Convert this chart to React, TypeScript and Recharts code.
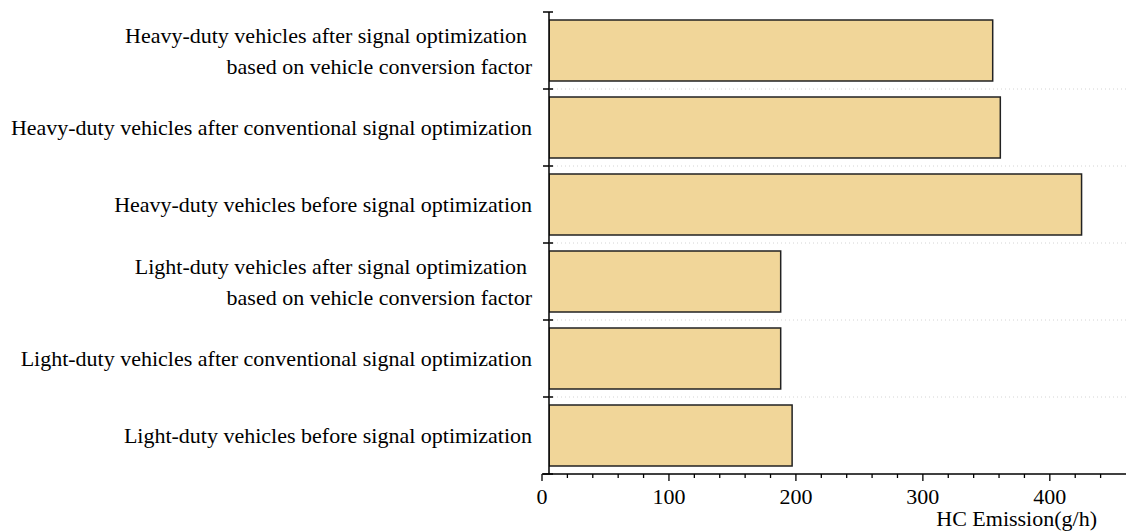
import { BarChart, Bar, XAxis, YAxis, ReferenceLine } from 'recharts'

// top to bottom
const categories = [
  'Heavy-duty vehicles after signal optimization\nbased on vehicle conversion factor',
  'Heavy-duty vehicles after conventional signal optimization',
  'Heavy-duty vehicles before signal optimization',
  'Light-duty vehicles after signal optimization\nbased on vehicle conversion factor',
  'Light-duty vehicles after conventional signal optimization',
  'Light-duty vehicles before signal optimization',
]
const hcEmission = [355, 361, 425, 188, 188, 197]
const xTicks = [0, 20, 40, 60, 80, 100, 120, 140, 160, 180, 200, 220, 240, 260, 280, 300, 320, 340, 360, 380, 400, 420, 440]

const data = categories.map((name, i) => ({ name, value: hcEmission[i] }))

const FONT = '"Liberation Serif", "Times New Roman", serif'

// category label + band-edge tick mark + dotted grid line
function CategoryTick({ x, y, payload, index }: any) {
  const lines = String(payload.value).split('\n')
  const half = payload.offset || 0
  const top = y - half
  return (
    <g>
      {index > 0 && (
        <line x1={x + 7} x2={x + 700} y1={top} y2={top} stroke="#d4d4d4" strokeWidth={1} strokeDasharray="1 3" />
      )}
      <line x1={x + 1} x2={x + 11} y1={top} y2={top} stroke="#000" strokeWidth={1.5} />
      {index === categories.length - 1 && (
        <line x1={x + 1} x2={x + 11} y1={y + half} y2={y + half} stroke="#000" strokeWidth={1.5} />
      )}
      {lines.map((line, i) => (
        <text
          key={i}
          x={x - (lines.length > 1 && i === 0 ? 15 : 10)}
          y={y + (lines.length === 1 ? 0 : -15 + i * 31)}
          dy="0.35em"
          textAnchor="end"
          fontSize={22}
          fontFamily={FONT}
          fill="#000"
        >
          {line}
        </text>
      ))}
    </g>
  )
}

function XTick({ x, y, payload }: any) {
  const major = payload.value % 100 === 0
  return (
    <g>
      <line x1={x} x2={x} y1={y} y2={y + (major ? 7 : 4)} stroke="#000" strokeWidth={1.3} />
      {major && (
        <text x={x} y={y + 30} textAnchor="middle" fontSize={22} fontFamily={FONT} fill="#000">
          {payload.value}
        </text>
      )}
    </g>
  )
}

export default function App() {
  return (
    <div style={{ position: 'absolute', left: 0, top: 0, background: '#fff' }}>
      <BarChart
        width={1126}
        height={532}
        data={data}
        layout="vertical"
        margin={{ top: 12, right: 0, bottom: 0, left: 0 }}
      >
        <YAxis
          yAxisId="cat"
          type="category"
          dataKey="name"
          width={542}
          axisLine={false}
          tickLine={false}
          tickSize={0}
          tickMargin={0}
          tick={<CategoryTick />}
          interval={0}
        />
        <XAxis
          xAxisId="b"
          type="number"
          domain={[5.5, 460]}
          allowDataOverflow
          padding={{ left: 7, right: 0 }}
          height={0}
          hide
        />
        <XAxis
          xAxisId="v"
          type="number"
          domain={[0, 460]}
          ticks={xTicks}
          allowDataOverflow
          height={58}
          axisLine={{ stroke: '#000', strokeWidth: 1.5 }}
          tickLine={false}
          tickSize={0}
          tickMargin={0}
          tick={<XTick />}
          interval={0}
          label={{
            value: 'HC Emission(g/h)',
            position: 'insideBottomRight',
            offset: 29,
            dy: 23,
            fontSize: 22,
            fontFamily: FONT,
            fill: '#000',
          }}
        />
        <Bar
          dataKey="value"
          xAxisId="b"
          yAxisId="cat"
          barSize={61}
          fill="#F1D699"
          stroke="#222"
          strokeWidth={1.5}
          isAnimationActive={false}
        />
        <ReferenceLine x={5.5} xAxisId="b" yAxisId="cat" stroke="#000" strokeWidth={1.5} />
      </BarChart>
    </div>
  )
}
